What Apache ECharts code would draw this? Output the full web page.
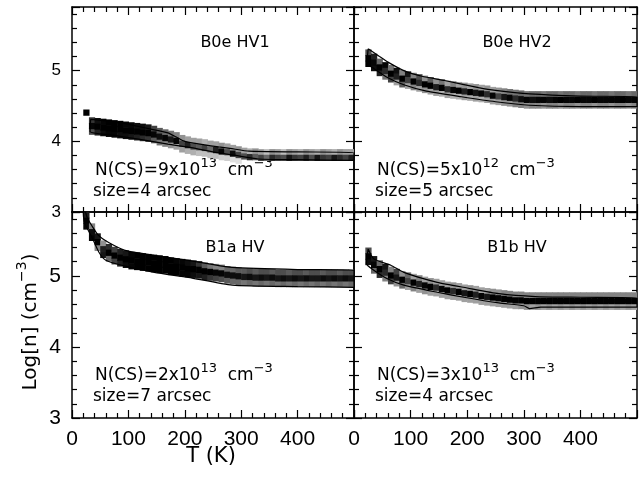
<!DOCTYPE html>
<html><head><meta charset="utf-8">
<script src="https://cdn.jsdelivr.net/npm/echarts@6/dist/echarts.min.js"></script>
<style>html,body{margin:0;padding:0;background:#fff}#c{width:640px;height:478px}</style>
</head><body><div id="c"></div>
<script>
// ---- data: temperature columns (K) of the probability grid ----
const tempK = [25,35,45,55,65,75,85,95,105,115,125,135,145,155,165,175,185,195,205,215,225,235,245,255,265,275,285,295,305,315,325,335,345,355,365,375,385,395,405,415,425,435,445,455,465,475,485,495];

// B0e HV1
const hv1Center = [4.41,4.22,4.21,4.20,4.19,4.18,4.17,4.16,4.15,4.14,4.13,4.12,4.10,4.07,4.05,4.03,4.01,3.97,3.95,3.93,3.92,3.91,3.89,3.88,3.86,3.85,3.83,3.81,3.79,3.78,3.78,3.77,3.77,3.77,3.77,3.77,3.77,3.77,3.77,3.77,3.77,3.77,3.77,3.77,3.77,3.77,3.77,3.77];
const hv1Core = [1,0.95,1,1,1,1,1,1,1,1,1,1,0.95,0.9,0.95,0.85,0.95,0.65,0.8,0.6,0.55,0.65,0.5,0.8,0.95,0.6,0.9,0.65,0.6,0.75,0.55,0.65,0.5,0.75,0.65,0.6,0.85,0.7,0.65,0.8,0.6,0.85,0.7,0.65,0.85,0.75,0.65,0.8];
const hv1Up = [0,0.7,0.9,0.95,1,1,1,0.95,0.95,0.9,0.9,0.85,0.65,0.55,0.5,0.45,0.4,0.35,0.3,0.3,0.3,0.25,0.3,0.3,0.35,0.3,0.3,0.35,0.3,0.25,0.35,0.3,0.2,0.35,0.3,0.2,0.35,0.3,0.25,0.35,0.3,0.25,0.35,0.3,0.25,0.35,0.3,0.3];
const hv1Lo = [0,0.6,0.8,0.9,0.95,0.95,0.9,0.9,0.85,0.8,0.75,0.7,0.55,0.45,0.4,0.35,0.3,0.3,0.25,0.25,0.2,0.2,0.2,0.2,0.15,0.15,0.1,0.1,0,0,0,0,0,0,0,0,0,0,0,0,0,0,0,0,0,0,0,0];
const hv1Upper = [[33,4.31],[60,4.29],[88,4.26],[135,4.18],[170,4.12],[185,4.06],[200,4.0],[235,3.95],[260,3.92],[280,3.9],[314,3.86],[400,3.85],[500,3.84]];
const hv1Lower = [[32,4.14],[70,4.09],[118,4.03],[170,3.96],[212,3.91],[250,3.85],[290,3.8],[330,3.75],[400,3.74],[500,3.73]];

// B0e HV2
const hv2Center = [5.18,5.12,5.05,5.00,4.96,4.92,4.89,4.87,4.85,4.83,4.81,4.79,4.77,4.76,4.74,4.73,4.72,4.71,4.70,4.69,4.68,4.67,4.65,4.64,4.63,4.62,4.61,4.60,4.59,4.59,4.59,4.59,4.59,4.59,4.59,4.59,4.59,4.59,4.59,4.59,4.59,4.59,4.59,4.59,4.59,4.59,4.59,4.59];
const hv2Core = [1,0.95,1,0.75,1,0.8,1,0.65,1,0.75,1,1,0.8,1,0.75,0.95,1,0.8,1,0.85,0.95,0.75,0.95,0.65,0.85,0.95,0.75,0.9,0.95,0.9,0.95,0.95,0.9,0.95,1,0.95,0.95,1,0.95,0.95,1,0.95,0.95,0.95,0.95,1,0.95,0.95];
const hv2Up = [0.6,0.8,0.5,0.95,0.45,0.9,0.4,0.85,0.4,0.6,0.35,0.55,0.35,0.45,0.3,0.4,0.3,0.35,0.3,0.35,0.3,0.35,0.3,0.35,0.4,0.45,0.45,0.5,0.45,0.5,0.5,0.45,0.5,0.5,0.45,0.5,0.5,0.45,0.5,0.5,0.45,0.5,0.5,0.45,0.5,0.5,0.45,0.5];
const hv2Lo = [1,0.9,0.8,0.45,0.65,0.3,0.55,0.3,0.4,0.3,0.35,0.3,0.3,0.25,0.3,0.25,0.25,0.3,0.25,0.3,0.25,0.3,0.3,0.3,0.35,0.35,0.4,0.4,0.35,0.4,0.4,0.35,0.4,0.4,0.35,0.4,0.4,0.35,0.4,0.4,0.35,0.4,0.4,0.35,0.4,0.4,0.35,0.4];
const hv2Upper = [[25,5.31],[45,5.2],[60,5.12],[88,5.0],[120,4.92],[160,4.86],[220,4.76],[250,4.72],[310,4.67],[400,4.64],[500,4.63]];
const hv2Lower = [[23,5.1],[35,5.03],[60,4.9],[88,4.8],[128,4.71],[190,4.63],[250,4.56],[310,4.51],[400,4.49],[500,4.49]];

// B1a HV
const b1aCenter = [5.78,5.62,5.48,5.38,5.33,5.29,5.26,5.24,5.22,5.21,5.20,5.19,5.18,5.17,5.16,5.14,5.13,5.12,5.11,5.10,5.09,5.07,5.06,5.05,5.04,5.02,5.01,5.00,4.99,4.99,4.98,4.98,4.98,4.98,4.97,4.97,4.97,4.97,4.97,4.97,4.97,4.97,4.97,4.97,4.97,4.97,4.97,4.97];
const b1aCore = [1,0.9,1,0.8,1,1,1,1,1,1,1,1,1,1,1,1,1,1,1,1,1,1,1,0.95,0.95,0.9,0.9,0.9,0.85,0.9,0.85,0.9,0.85,0.9,0.85,0.9,0.85,0.9,0.85,0.9,0.85,0.85,0.9,0.85,0.9,0.85,0.9,0.85];
const b1aUp = [0.8,0.4,0.85,0.35,0.75,0.65,0.8,0.85,0.95,1,1,1,1,1,1,1,0.95,0.95,0.9,0.85,0.7,0.55,0.45,0.4,0.4,0.5,0.5,0.55,0.55,0.6,0.55,0.6,0.6,0.55,0.6,0.6,0.55,0.6,0.6,0.55,0.6,0.6,0.55,0.6,0.6,0.55,0.6,0.6];
const b1aLo = [0.95,0.95,0.4,0.85,0.5,0.65,0.8,0.9,0.95,1,1,1,1,1,1,1,1,0.95,0.95,0.9,0.85,0.8,0.7,0.65,0.6,0.55,0.5,0.5,0.45,0.5,0.45,0.5,0.45,0.5,0.45,0.5,0.45,0.5,0.45,0.5,0.45,0.5,0.45,0.5,0.45,0.5,0.45,0.5];
const b1aUpper = [[24,5.9],[27,5.82],[35,5.71],[47,5.57],[65,5.47],[94,5.36],[146,5.29],[206,5.22],[243,5.17],[284,5.12],[400,5.09],[500,5.08]];
const b1aLower = [[20,5.9],[22,5.75],[35,5.55],[48,5.33],[60,5.22],[88,5.15],[146,5.05],[206,4.98],[284,4.87],[400,4.85],[500,4.84]];

// B1b HV
const b1bCenter = [5.28,5.16,5.10,5.05,5.01,4.98,4.95,4.93,4.91,4.89,4.87,4.85,4.84,4.82,4.80,4.79,4.78,4.76,4.75,4.74,4.72,4.71,4.70,4.69,4.68,4.67,4.66,4.66,4.65,4.65,4.65,4.65,4.65,4.65,4.65,4.65,4.65,4.65,4.65,4.65,4.65,4.65,4.65,4.65,4.65,4.65,4.65,4.65];
const b1bCore = [1,0.95,1,0.75,1,0.85,1,0.65,1,0.8,0.95,1,0.75,0.95,1,0.75,1,0.85,1,0.8,0.95,0.85,1,0.95,1,1,1,1,1,1,1,1,1,1,1,1,1,1,1,1,1,1,1,1,1,1,1,1];
const b1bUp = [0.6,0.85,0.5,0.85,0.4,0.65,0.35,0.5,0.3,0.4,0.3,0.35,0.3,0.3,0.3,0.35,0.3,0.3,0.35,0.3,0.3,0.3,0.35,0.35,0.4,0.4,0.4,0.4,0.4,0.4,0.4,0.4,0.4,0.4,0.4,0.4,0.4,0.4,0.4,0.4,0.4,0.4,0.4,0.4,0.4,0.4,0.4,0.4];
const b1bLo = [0.9,0.5,0.75,0.4,0.65,0.35,0.5,0.3,0.4,0.3,0.35,0.3,0.3,0.3,0.3,0.3,0.3,0.3,0.3,0.3,0.3,0.3,0.3,0.3,0.3,0.3,0.3,0.35,0.35,0.3,0.35,0.3,0.35,0.3,0.35,0.3,0.35,0.3,0.35,0.3,0.35,0.3,0.35,0.3,0.35,0.3,0.35,0.3];
const b1bUpper = [[25,5.38],[35,5.24],[65,5.15],[88,5.05],[147,4.91],[200,4.83],[256,4.75],[320,4.71],[400,4.70],[500,4.69]];
const b1bLower = [[22,5.17],[35,5.08],[59,4.96],[88,4.87],[147,4.77],[194,4.70],[256,4.62],[300,4.58],[310,4.54],[330,4.56],[500,4.56]];

// labels
const panelTitles = ['B0e HV1', 'B0e HV2', 'B1a HV', 'B1b HV'];
const ncsMantissa = ['9x10', '5x10', '2x10', '3x10'];
const ncsExponent = ['13', '12', '13', '13'];
const sourceSize = ['4', '5', '7', '4'];
const xTickValues = [0, 100, 200, 300, 400];
const yTickValues = [3, 4, 5];

// ---- layout ----
const T_MIN = 0, T_MAX = 500, N_MIN = 3, N_MAX = 5.9;
const CELL_T = 10, CELL_N = 0.08;
const grids = [
  {left: 72, top: 7, width: 282, height: 205},
  {left: 354, top: 7, width: 283, height: 205},
  {left: 72, top: 212, width: 282, height: 206},
  {left: 354, top: 212, width: 283, height: 206}
];
const panels = [
  {center: hv1Center, core: hv1Core, up: hv1Up, lo: hv1Lo, upper: hv1Upper, lower: hv1Lower},
  {center: hv2Center, core: hv2Core, up: hv2Up, lo: hv2Lo, upper: hv2Upper, lower: hv2Lower},
  {center: b1aCenter, core: b1aCore, up: b1aUp, lo: b1aLo, upper: b1aUpper, lower: b1aLower},
  {center: b1bCenter, core: b1bCore, up: b1bUp, lo: b1bLo, upper: b1bUpper, lower: b1bLower}
];

function buildCells(p) {
  const out = [];
  tempK.forEach((t, i) => {
    const c = p.center[i];
    if (p.up[i] > 0) out.push([t, +(c + CELL_N).toFixed(3), p.up[i]]);
    if (p.lo[i] > 0) out.push([t, +(c - CELL_N).toFixed(3), p.lo[i]]);
    if (p.core[i] > 0) out.push([t, c, p.core[i]]);
  });
  return out;
}
function renderCell(params, api) {
  const t = api.value(0), v = api.value(1), d = api.value(2);
  const a = api.coord([t - CELL_T / 2, v + CELL_N / 2]);
  const b = api.coord([t + CELL_T / 2, v - CELL_N / 2]);
  const g = Math.round(255 * Math.pow(1 - d, 1.3));
  return {type: 'rect', shape: {x: a[0], y: a[1], width: b[0] - a[0] + 0.6, height: b[1] - a[1] + 0.6},
    style: {fill: 'rgb(' + g + ',' + g + ',' + g + ')'}};
}

const FONT = 'DejaVu Sans';
const TICK_FONT = 'Liberation Sans';
const axisLineStyle = {color: '#000', width: 1.5};
const tickLineStyle = {color: '#000', width: 1.2};
const xAxes = [], yAxes = [], series = [], graphics = [];

grids.forEach((g, i) => {
  const bottomRow = i >= 2, leftCol = i % 2 === 0;
  ['bottom', 'top'].forEach(pos => xAxes.push({
    gridIndex: i, type: 'value', position: pos, min: T_MIN, max: T_MAX, interval: 100,
    axisLine: {show: true, onZero: false, lineStyle: axisLineStyle},
    axisTick: {show: true, inside: true, length: 8, lineStyle: tickLineStyle},
    minorTick: {show: true, splitNumber: 5, length: 5, lineStyle: tickLineStyle},
    splitLine: {show: false}, minorSplitLine: {show: false},
    axisLabel: {show: pos === 'bottom' && bottomRow, margin: 11, fontSize: 21, fontFamily: TICK_FONT, color: '#000',
      formatter: v => xTickValues.indexOf(v) >= 0 ? String(v) : ''}
  }));
  ['left', 'right'].forEach(pos => yAxes.push({
    gridIndex: i, type: 'value', position: pos, min: N_MIN, max: N_MAX, interval: 1,
    axisLine: {show: true, onZero: false, lineStyle: axisLineStyle},
    axisTick: {show: true, inside: true, length: 8, lineStyle: tickLineStyle},
    minorTick: {show: true, splitNumber: 5, length: 5, lineStyle: tickLineStyle},
    splitLine: {show: false}, minorSplitLine: {show: false},
    axisLabel: {show: pos === 'left' && leftCol, margin: 11, fontSize: bottomRow ? 21 : 17, fontFamily: TICK_FONT, color: '#000',
      formatter: v => yTickValues.indexOf(v) >= 0 ? String(v) : ''}
  }));
  const p = panels[i];
  series.push({
    type: 'custom', xAxisIndex: 2 * i, yAxisIndex: 2 * i, clip: true, z: 3,
    renderItem: renderCell, encode: {x: 0, y: 1}, data: buildCells(p), silent: true
  });
  series.push({
    type: 'line', xAxisIndex: 2 * i, yAxisIndex: 2 * i, clip: true, z: 4, symbol: 'none', smooth: 0.2,
    lineStyle: {color: '#000', width: 1.2},
    data: p.upper.concat(p.lower.slice().reverse(), [p.upper[0]]), silent: true
  });
  // annotations
  graphics.push({type: 'text', x: g.left + 163, y: g.top + 36, z: 1,
    style: {text: panelTitles[i], font: '16px "' + FONT + '"', fill: '#000', align: 'center', verticalAlign: 'middle'}});
  graphics.push({type: 'text', x: g.left + 23, y: g.top + 150, z: 1,
    style: {text: '{a|N(CS)=' + ncsMantissa[i] + '}{s|' + ncsExponent[i] + '}{a|  cm}{s|\u22123}',
      align: 'left', verticalAlign: 'top',
      rich: {a: {fontSize: 17, fontFamily: FONT, fill: '#000', lineHeight: 22, verticalAlign: 'bottom'},
             s: {fontSize: 13, fontFamily: FONT, fill: '#000', verticalAlign: 'top'}}}});
  graphics.push({type: 'text', x: g.left + 21, y: g.top + 184.7, z: 1,
    style: {text: 'size=' + sourceSize[i] + ' arcsec', font: '17px "' + FONT + '"', fill: '#000', align: 'left', verticalAlign: 'middle'}});
});

graphics.push({type: 'text', x: 211, y: 457, z: 1,
  style: {text: 'T (K)', font: '21px "' + FONT + '"', fill: '#000', align: 'center', verticalAlign: 'middle'}});
graphics.push({type: 'text', x: 28, y: 322, rotation: Math.PI / 2, z: 1,
  style: {text: '{a|Log[n] (cm}{s|\u22123}{a|)}', align: 'center', verticalAlign: 'middle',
    rich: {a: {fontSize: 20, fontFamily: FONT, fill: '#000', lineHeight: 26, verticalAlign: 'bottom'},
           s: {fontSize: 14, fontFamily: FONT, fill: '#000', verticalAlign: 'top'}}}});

const chart = echarts.init(document.getElementById('c'), null, {renderer: 'canvas'});
chart.setOption({
  animation: false,
  backgroundColor: '#fff',
  grid: grids.map(g => Object.assign({containLabel: false, outerBoundsMode: 'none'}, g)),
  xAxis: xAxes,
  yAxis: yAxes,
  series: series,
  graphic: graphics
});
</script></body></html>
